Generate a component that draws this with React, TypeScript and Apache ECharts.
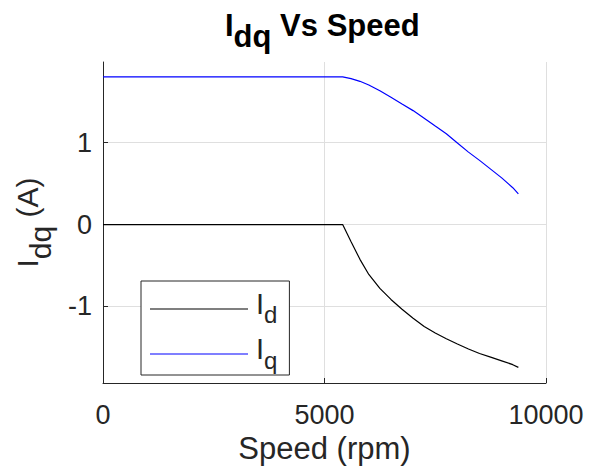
import { useEffect, useRef } from "react";
import * as echarts from "echarts";

const speedRpm = [0, 5410, 5600, 5800, 6000, 6250, 6500, 6750, 7000, 7250, 7500, 7750, 8000, 8250, 8500, 8750, 9000, 9250, 9376];
const idAmps = [0, 0, -0.21, -0.425, -0.61, -0.78, -0.915, -1.035, -1.145, -1.245, -1.325, -1.395, -1.46, -1.52, -1.575, -1.62, -1.665, -1.712, -1.745];
const iqAmps = [1.805, 1.805, 1.783, 1.75, 1.705, 1.635, 1.555, 1.473, 1.392, 1.298, 1.203, 1.109, 0.997, 0.885, 0.784, 0.677, 0.57, 0.45, 0.374];
const yTicks = [-1, 0, 1];
const seriesNames = ["Id", "Iq"];
const seriesColors = ["#000000", "#0000ff"];

export default function App() {
  const ref = useRef<HTMLDivElement>(null);
  useEffect(() => {
    document.body.style.margin = "0";
    const chart = echarts.init(ref.current!, null, { renderer: "svg" });
    const font = "'Liberation Sans', Arial, Helvetica, sans-serif";
    const dark = "#262626";
    const grid = "#dfdfdf";
    const legendLineYs = [309, 354];
    chart.setOption({
      animation: false,
      backgroundColor: "#ffffff",
      title: {
        text: "{m|I}{s|dq}{m| Vs Speed}",
        left: 225,
        top: 10,
        padding: 0,
        textStyle: {
          rich: {
            m: { fontSize: 31, fontWeight: "bold", fontFamily: font, color: "#000", padding: [0, 0, 11, 0], verticalAlign: "middle" },
            s: { fontSize: 31, fontWeight: "bold", fontFamily: font, color: "#000", padding: [11, 0, 0, 0], verticalAlign: "middle" },
          },
        },
      },
      grid: { left: 103, right: 44, top: 62, bottom: 89 },
      legend: {
        orient: "vertical",
        left: 141,
        top: 281,
        itemWidth: 98,
        itemHeight: 14,
        itemGap: 8,
        padding: [8, 12, 3, 9],
        borderColor: dark,
        borderWidth: 1,
        backgroundColor: "#fff",
        itemStyle: { opacity: 0 },
        lineStyle: { opacity: 0 },
        data: seriesNames,
        formatter: (name: string) => (name === "Id" ? "{m|I}{s|d}" : "{m|I}{s|q}"),
        textStyle: {
          rich: {
            m: { fontSize: 29, fontFamily: font, color: dark, padding: [0, 0, 11, 2], verticalAlign: "middle" },
            s: { fontSize: 24, fontFamily: font, color: dark, padding: [11, 0, 0, 0], verticalAlign: "middle" },
          },
        },
      },
      graphic: seriesColors.map((c, i) => ({
        type: "line",
        z: 100,
        silent: true,
        shape: { x1: 150, y1: legendLineYs[i], x2: 248, y2: legendLineYs[i] },
        style: { stroke: c, lineWidth: 1.2 },
      })),
      xAxis: {
        type: "value",
        min: 0,
        max: 10000,
        interval: 5000,
        name: "Speed (rpm)",
        nameLocation: "middle",
        nameGap: 41,
        nameTextStyle: { fontSize: 31, color: dark, fontFamily: font },
        axisLine: { onZero: false, lineStyle: { color: dark, width: 1 } },
        axisTick: { inside: true, length: 5, lineStyle: { color: dark } },
        axisLabel: { fontSize: 27, color: dark, margin: 18, fontFamily: font, formatter: (v: number) => String(v) },
        splitLine: { show: true, lineStyle: { color: grid, width: 1 } },
      },
      yAxis: {
        type: "value",
        min: -1.936,
        max: 1.986,
        name: "{m|I}{s|dq}{m| (A)}",
        nameLocation: "middle",
        nameGap: 48,
        nameTextStyle: {
          rich: {
            m: { fontSize: 30, fontFamily: font, color: dark, padding: [0, 0, 13, 0], verticalAlign: "middle" },
            s: { fontSize: 30, fontFamily: font, color: dark, padding: [13, 0, 0, 0], verticalAlign: "middle" },
          },
        },
        axisLine: { show: true, lineStyle: { color: dark, width: 1 } },
        axisTick: { show: true, inside: true, length: 5, customValues: yTicks, lineStyle: { color: dark } },
        axisLabel: { fontSize: 27, color: dark, margin: 11, fontFamily: font, customValues: yTicks },
        splitLine: { show: true, lineStyle: { color: grid, width: 1 } },
      },
      series: [
        {
          name: seriesNames[0],
          type: "line",
          data: speedRpm.map((s, i) => [s, idAmps[i]]),
          symbol: "none",
          color: seriesColors[0],
          lineStyle: { color: seriesColors[0], width: 1.2 },
          z: 3,
        },
        {
          name: seriesNames[1],
          type: "line",
          data: speedRpm.map((s, i) => [s, iqAmps[i]]),
          symbol: "none",
          color: seriesColors[1],
          lineStyle: { color: seriesColors[1], width: 1.2 },
          z: 3,
        },
      ],
    });
    return () => chart.dispose();
  }, []);
  return <div ref={ref} style={{ width: 590, height: 472 }} />;
}
